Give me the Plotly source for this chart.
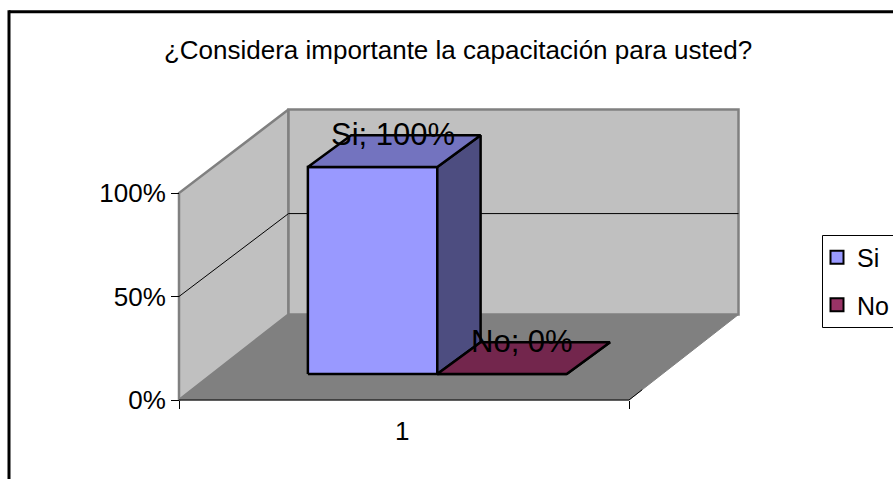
import plotly.graph_objects as go

# Chart content
title_text = "¿Considera importante la capacitación para usted?"
series_names = ["Si", "No"]
series_values = [100, 0]
category_labels = ["1"]
value_ticks = [0, 50, 100]
value_tick_labels = ["0%", "50%", "100%"]

# Face colours per series: front, top, side
front_colors = ["#9999FF", "#993366"]
top_colors = ["#7373BF", "#73264D"]
side_colors = ["#4D4D80", "#4D1A33"]

WIDTH, HEIGHT = 893, 479
FONT = "Liberation Sans"
FONT_SIZE = 26
LABEL_SIZE = 31

# Axes cover the whole canvas; one category spans 450 px and 100% spans 207 px
PX_X = 450.0
PX_Y = 207.0 / 100
ORIGIN_X, ORIGIN_Y = 179.0, 400.0
x_range = [-ORIGIN_X / PX_X, (WIDTH - ORIGIN_X) / PX_X]
y_range = [-(HEIGHT - ORIGIN_Y) / PX_Y, ORIGIN_Y / PX_Y]

# Oblique depth offset of the box, in axis units
DEPTH_X = 109.5 / PX_X
DEPTH_Y = 85.5 / PX_Y
BAR_WIDTH = 129.4 / PX_X
BAR_Z = (0.304, 0.675)
BAR_BACK_SHIFT = 2.7 / PX_X
GAP = (1 - BAR_WIDTH * len(series_values)) / 2
# The back wall and its gridlines read slightly shorter than the front of the box
BACK_WALL_SCALE = 0.99
BACK_GRID_SCALE = 0.975
CATEGORY_TICK = 0.496


def project(x, z, value):
    return x + z * DEPTH_X, value + z * DEPTH_Y


def face(points, fill, line_color, line_width):
    xy = [project(*p) for p in points]
    xy.append(xy[0])
    return go.Scatter(
        x=[p[0] for p in xy],
        y=[p[1] for p in xy],
        mode="lines",
        fill="toself",
        fillcolor=fill,
        line=dict(color=line_color, width=line_width),
        hoverinfo="skip",
        showlegend=False,
    )


def edge(points, color, width):
    xy = [project(*p) for p in points]
    return go.Scatter(
        x=[p[0] for p in xy],
        y=[p[1] for p in xy],
        mode="lines",
        line=dict(color=color, width=width),
        hoverinfo="skip",
        showlegend=False,
    )


fig = go.Figure()
top = max(value_ticks)
back_top = top * BACK_WALL_SCALE

# Walls and floor
fig.add_trace(face([(0, 0, 0), (0, 1, 0), (0, 1, back_top), (0, 0, top)], "#C0C0C0", "#808080", 2.5))
fig.add_trace(face([(0, 1, 0), (1, 1, 0), (1, 1, back_top), (0, 1, back_top)], "#C0C0C0", "#808080", 2.5))
fig.add_trace(face([(0, 0, 0), (1, 0, 0), (1, 1, 0), (0, 1, 0)], "#808080", "#808080", 1))

# Gridlines wrap around the left and back walls
for tick in value_ticks[1:-1]:
    back_tick = tick * BACK_GRID_SCALE
    fig.add_trace(edge([(0, 0, tick), (0, 1, back_tick), (1, 1, back_tick)], "#000000", 1))

# Front edge of the floor
fig.add_trace(edge([(0, 0, 0), (1, 0, 0)], "#000000", 1))
fig.add_trace(edge([(1, 0, 0), (1, 0.12, 0)], "#000000", 1))

# Bars
z0, z1 = BAR_Z
annotations = []
for i, (name, value) in enumerate(zip(series_names, series_values)):
    x0 = GAP + i * BAR_WIDTH
    x1 = x0 + BAR_WIDTH
    xb0, xb1 = x0 + BAR_BACK_SHIFT, x1 + BAR_BACK_SHIFT
    fig.add_trace(face([(x0, z0, 0), (x1, z0, 0), (x1, z0, value), (x0, z0, value)], front_colors[i], "#000000", 2.5))
    fig.add_trace(face([(x1, z0, 0), (xb1, z1, 0), (xb1, z1, value), (x1, z0, value)], side_colors[i], "#000000", 2.5))
    fig.add_trace(face([(x0, z0, value), (x1, z0, value), (xb1, z1, value), (xb0, z1, value)], top_colors[i], "#000000", 2.5))
    label_x, label_y = project((x0 + x1) / 2, (z0 + z1) / 2, value)
    annotations.append(dict(
        x=label_x, y=label_y, xref="x", yref="y",
        text=f"{name}; {value}%", showarrow=False, yshift=17,
        font=dict(family=FONT, size=LABEL_SIZE, color="#000000"),
    ))
    # Legend entry for the series
    fig.add_trace(go.Scatter(
        x=[None], y=[None], mode="markers", name=name, legendgroup=name,
        marker=dict(symbol="square", size=13, color=front_colors[i],
                    line=dict(color="#000000", width=2)),
    ))

# Outer chart frame: only the top and left edges fall inside the page
shapes = [
    dict(type="line", xref="paper", yref="paper", x0=9 / WIDTH, x1=1,
         y0=1 - 11.7 / HEIGHT, y1=1 - 11.7 / HEIGHT, line=dict(color="#000000", width=3)),
    dict(type="line", xref="paper", yref="paper", x0=9 / WIDTH, x1=9 / WIDTH,
         y0=0, y1=1 - 10.2 / HEIGHT, line=dict(color="#000000", width=3)),
    # Legend box, running off the right edge of the page
    dict(type="rect", xref="paper", yref="paper", x0=822.5 / WIDTH, x1=1.02,
         y0=1 - 327.5 / HEIGHT, y1=1 - 235.5 / HEIGHT, line=dict(color="#000000", width=1)),
]

fig.update_layout(
    width=WIDTH,
    height=HEIGHT,
    margin=dict(l=0, r=0, t=0, b=0, autoexpand=False),
    autosize=False,
    paper_bgcolor="#FFFFFF",
    plot_bgcolor="#FFFFFF",
    font=dict(family=FONT, size=FONT_SIZE, color="#000000"),
    title=dict(text=title_text, x=458 / WIDTH, y=1 - 50 / HEIGHT, xanchor="center", yanchor="middle",
               font=dict(family=FONT, size=FONT_SIZE, color="#000000")),
    shapes=shapes,
    annotations=annotations,
    showlegend=True,
    legend=dict(
        x=817 / WIDTH, y=1 - 234.5 / HEIGHT, xanchor="left", yanchor="top",
        bgcolor="rgba(0,0,0,0)", borderwidth=0,
        font=dict(family=FONT, size=25, color="#000000"),
        tracegroupgap=12,
        itemclick=False, itemdoubleclick=False,
    ),
    xaxis=dict(
        range=x_range, anchor="free", position=(HEIGHT - ORIGIN_Y) / HEIGHT,
        domain=[0, 1], showgrid=False, zeroline=False, showline=False,
        tickmode="array", tickvals=[CATEGORY_TICK], ticktext=category_labels,
        ticks="outside", ticklen=8, tickcolor="rgba(0,0,0,0)",
        tickfont=dict(family=FONT, size=FONT_SIZE, color="#000000"),
        minor=dict(tickmode="array", tickvals=[0, 1], ticks="outside", ticklen=8,
                   tickcolor="#000000", tickwidth=1, showgrid=False),
    ),
    yaxis=dict(
        range=y_range, anchor="free", position=ORIGIN_X / WIDTH,
        domain=[0, 1], showgrid=False, zeroline=False, showline=False,
        tickmode="array", tickvals=value_ticks, ticktext=value_tick_labels,
        ticks="outside", ticklen=8, tickcolor="#000000", tickwidth=1,
        tickfont=dict(family=FONT, size=FONT_SIZE, color="#000000"),
    ),
)

fig.write_html("out.html", config=dict(displayModeBar=False))
